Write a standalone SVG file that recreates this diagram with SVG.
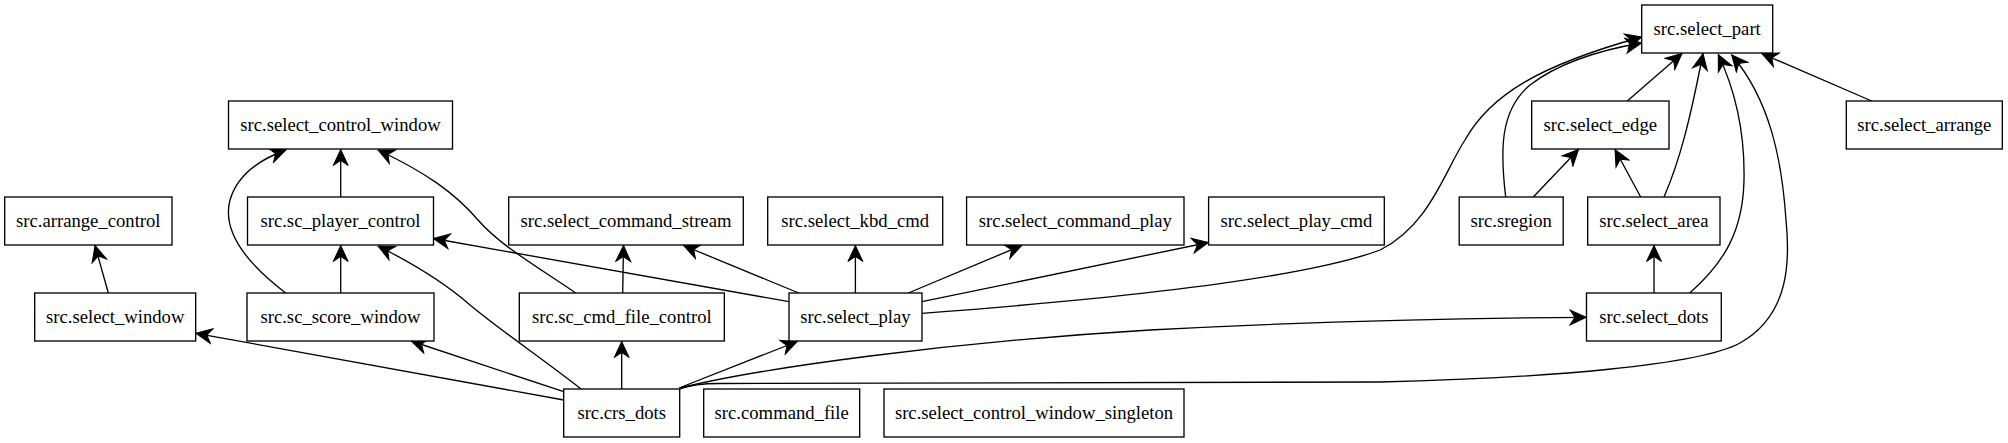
<svg xmlns="http://www.w3.org/2000/svg" width="2008" height="443" viewBox="0 0 2008 443">
<style>
.n rect{fill:#fff;stroke:#000;stroke-width:1.33}
.n text{font-family:"Liberation Serif","Times New Roman",serif;font-size:18.67px;text-anchor:middle;fill:#000}
.e path{fill:none;stroke:#000;stroke-width:1.33;marker-end:url(#ah)}
</style>
<defs>
<marker id="ah" markerUnits="userSpaceOnUse" viewBox="-17 -9 18 18" markerWidth="18" markerHeight="18" refX="0" refY="0" orient="auto">
<path d="M0,0 L-16,-7.5 L-11,0 L-16,7.5 Z" fill="#000" stroke="#000" stroke-width="1"/>
</marker>
</defs>
<rect width="2008" height="443" fill="#fff"/>
<g id="edges" class="e">
<path d="M108.3,293 L95,245.5"/>
<path d="M285.7,293 C245,262 222,230 230,200 C237,176 258,160 286,150"/>
<path d="M340.7,197 L340.7,149.5"/>
<path d="M340.7,293 L340.7,245.5"/>
<path d="M575.7,293 C530,262 500,245 478,220 C455,193 425,172 378,150"/>
<path d="M581,389 C540,357 500,330 470,305 C445,283 410,262 378,246"/>
<path d="M789,301.7 L433.5,238.5"/>
<path d="M563.7,400 L196,333.3"/>
<path d="M563.7,391.7 L411,341"/>
<path d="M621.7,389 L621.7,341.5"/>
<path d="M622.7,293 L623.5,245.5"/>
<path d="M798.7,293 L683.5,245.5"/>
<path d="M855.4,293 L855.4,245.5"/>
<path d="M908.3,293 L1021.7,245.5"/>
<path d="M922,301.7 L1208.3,242.5"/>
<path d="M922,313.3 C1100,300 1300,280 1380,250 C1430,225 1445,170 1465,140 C1490,95 1540,65 1641.7,37"/>
<path d="M1505.7,197 C1500,150 1500,110 1530,85 C1560,62 1600,50 1641.7,43"/>
<path d="M1627.3,101 L1682,53.5"/>
<path d="M1533.3,197 L1578.5,149.5"/>
<path d="M1640.7,197 L1615,149.5"/>
<path d="M1664,197 C1680,160 1690,120 1703,53.5"/>
<path d="M1654,293 L1654,245.5"/>
<path d="M1690,292.7 C1725,262 1743,230 1744,180 C1745,130 1735,90 1718.3,54.5"/>
<path d="M680,389 C690,385 700,383.5 720,383.5 L1380,382 C1550,378 1700,365 1740,343 C1790,315 1790,260 1786,220 C1782,160 1770,100 1731.7,55"/>
<path d="M680,388 C760,368 950,342 1150,330 C1300,322 1450,318 1586,317.3"/>
<path d="M679,388 L797.3,341.5"/>
<path d="M1871.7,101 L1761.7,53.5"/>
</g>
<g id="select_part" class="n"><rect x="1641.7" y="5" width="131" height="48"/><text x="1707.2" y="34.5">src.select_part</text></g>
<g id="select_control_window" class="n"><rect x="228.5" y="101" width="224" height="48"/><text x="340.5" y="130.5">src.select_control_window</text></g>
<g id="select_edge" class="n"><rect x="1531.7" y="101" width="137.3" height="48"/><text x="1600.3" y="130.5">src.select_edge</text></g>
<g id="select_arrange" class="n"><rect x="1846.3" y="101" width="156" height="48"/><text x="1924.3" y="130.5">src.select_arrange</text></g>
<g id="arrange_control" class="n"><rect x="4.7" y="197" width="167.3" height="48"/><text x="88.3" y="226.5">src.arrange_control</text></g>
<g id="sc_player_control" class="n"><rect x="247.5" y="197" width="186" height="48"/><text x="340.5" y="226.5">src.sc_player_control</text></g>
<g id="select_command_stream" class="n"><rect x="508.7" y="197" width="234.6" height="48"/><text x="626" y="226.5">src.select_command_stream</text></g>
<g id="select_kbd_cmd" class="n"><rect x="767.7" y="197" width="175" height="48"/><text x="855.2" y="226.5">src.select_kbd_cmd</text></g>
<g id="select_command_play" class="n"><rect x="966.6" y="197" width="217.4" height="48"/><text x="1075.3" y="226.5">src.select_command_play</text></g>
<g id="select_play_cmd" class="n"><rect x="1208.6" y="197" width="175.7" height="48"/><text x="1296.5" y="226.5">src.select_play_cmd</text></g>
<g id="sregion" class="n"><rect x="1459.2" y="197" width="104" height="48"/><text x="1511.2" y="226.5">src.sregion</text></g>
<g id="select_area" class="n"><rect x="1587.7" y="197" width="132.3" height="48"/><text x="1653.8" y="226.5">src.select_area</text></g>
<g id="select_window" class="n"><rect x="34.7" y="293" width="161" height="48"/><text x="115.2" y="322.5">src.select_window</text></g>
<g id="sc_score_window" class="n"><rect x="247" y="293" width="187" height="48"/><text x="340.5" y="322.5">src.sc_score_window</text></g>
<g id="sc_cmd_file_control" class="n"><rect x="519.3" y="293" width="205" height="48"/><text x="621.8" y="322.5">src.sc_cmd_file_control</text></g>
<g id="select_play" class="n"><rect x="789" y="293" width="133" height="48"/><text x="855.5" y="322.5">src.select_play</text></g>
<g id="select_dots" class="n"><rect x="1586.5" y="293" width="134.8" height="48"/><text x="1653.9" y="322.5">src.select_dots</text></g>
<g id="crs_dots" class="n"><rect x="563.7" y="389" width="116" height="48"/><text x="621.7" y="418.5">src.crs_dots</text></g>
<g id="command_file" class="n"><rect x="703.7" y="389" width="156" height="48"/><text x="781.7" y="418.5">src.command_file</text></g>
<g id="select_control_window_singleton" class="n"><rect x="884" y="389" width="300" height="48"/><text x="1034" y="418.5">src.select_control_window_singleton</text></g>
</svg>
